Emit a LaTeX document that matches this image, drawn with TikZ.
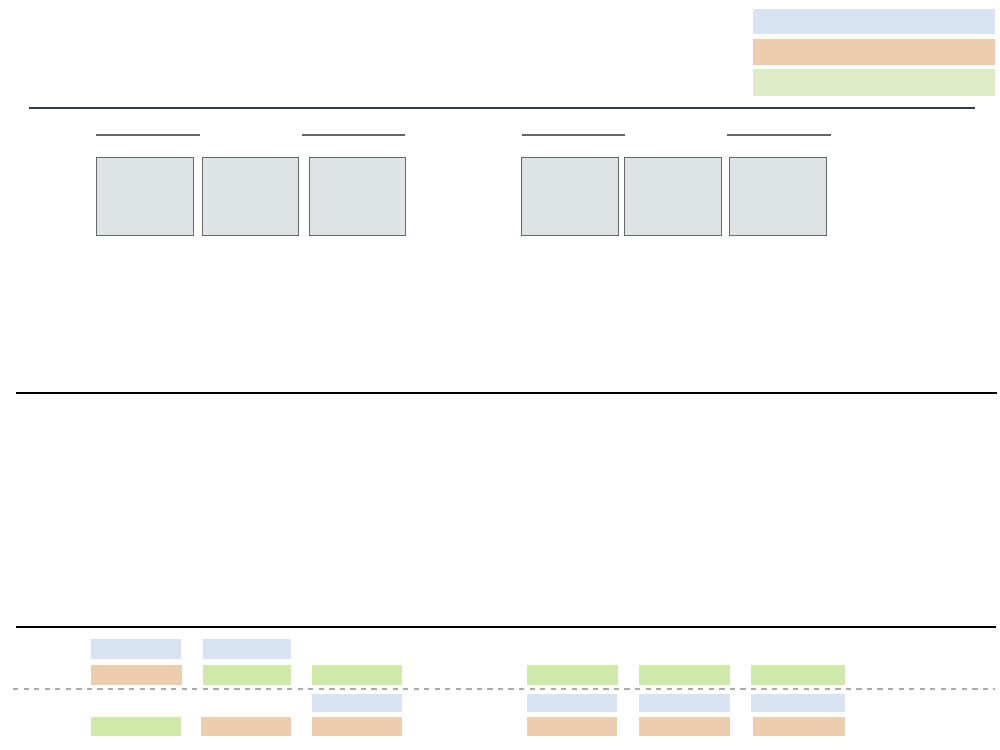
\documentclass[tikz,border=0pt]{standalone}
\definecolor{keyblue}{HTML}{D8E4F3}
\definecolor{keyorange}{HTML}{EECDAF}
\definecolor{keygreen}{HTML}{DDEBC6}
\definecolor{barblue}{HTML}{D8E4F3}
\definecolor{barorange}{HTML}{EECDAF}
\definecolor{bargreen}{HTML}{CFEAA8}
\definecolor{cellgray}{HTML}{DEE3E6}
\definecolor{edgegray}{HTML}{666666}
\definecolor{ruledark}{HTML}{2F3B45}
\begin{document}
\begin{tikzpicture}[x=0.02cm, y=-0.02cm]
		\useasboundingbox (0, 0) rectangle (1000, 750);
		% legend
		\fill[keyblue] (753, 9) rectangle (995, 34);
		\fill[keyorange] (753, 39) rectangle (995, 65);
		\fill[keygreen] (753, 69) rectangle (995, 96);
		\draw[line width=0.6pt, ruledark] (29, 108) -- (975, 108);
		% groups
		\foreach \a/\b in {96/200, 302/405, 522/625, 727/831}{
			\draw[line width=1.1pt, edgegray] (\a, 135) -- (\b, 135);
		}
		\foreach \a/\b in {96/193, 202/298, 309/405, 521/618, 624/721, 729/826}{
			\filldraw[fill=cellgray, draw=edgegray, line width=0.5pt] (\a, 157) rectangle (\b, 235);
		}
		\draw[line width=0.6pt] (16, 393) -- (997, 393);
		\draw[line width=0.6pt] (16, 627) -- (996, 627);
		% bars
		\foreach \a/\b in {91/181, 203/291}{
			\fill[barblue] (\a, 639) rectangle (\b, 659);
		}
		\fill[barorange] (91, 665) rectangle (182, 685);
		\foreach \a/\b in {203/291, 312/402, 527/618, 639/730, 751/845}{
			\fill[bargreen] (\a, 665) rectangle (\b, 685);
		}
		\draw[line width=0.6pt, black!33, dashed] (13, 689) -- (995, 689);
		\foreach \a/\b in {312/402, 527/617, 639/730, 751/845}{
			\fill[barblue] (\a, 694) rectangle (\b, 712);
		}
		\fill[bargreen] (91, 717) rectangle (181, 736);
		\foreach \a/\b in {201/291, 312/402, 527/617, 639/730, 753/845}{
			\fill[barorange] (\a, 717) rectangle (\b, 736);
		}
	\end{tikzpicture}
\end{document}
